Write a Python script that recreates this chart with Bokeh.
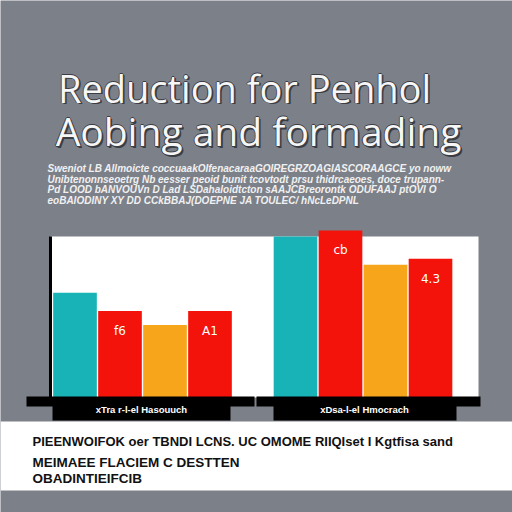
from bokeh.plotting import figure
from bokeh.models import Range1d
from bokeh.core.properties import value
from bokeh.embed import file_html
from bokeh.resources import INLINE

# ---------------- data ----------------
title_lines = ["Reduction for Penhol", "Aobing and formading"]
paragraph_lines = [
    "Sweniot LB Allmoicte coccuaakOIfenacaraaGOIREGRZOAGIASCORAAGCE yo noww",
    "Unibtenonnseoetrg Nb eesser peoid bunit tcovtodt prsu thidrcaeoes, doce trupann-",
    "Pd LOOD bANVOUVn D Lad LSDahaloidtcton sAAJCBreorontk ODUFAAJ ptOVI O",
    "eoBAIODINY XY DD CCkBBAJ(DOEPNE JA TOULEC/ hNcLeDPNL",
]
groups = ["xTra r-l-el Hasouuch", "xDsa-l-el Hmocrach"]
series = ["Teal", "Red", "Orange", "Red B"]
group1_values = [52, 43, 36, 43]
group2_values = [80, 83, 66, 69]
group1_labels = ["", "f6", "", "A1"]
group2_labels = ["", "cb", "", "4.3"]
footer_lines = [
    "PIEENWOIFOK oer TBNDI LCNS. UC OMOME RIIQIset I Kgtfisa sand",
    "MEIMAEE  FLACIEM C DESTTEN",
    "OBADINTIEIFCIB",
]
colors = ["#17b3b6", "#f4130a", "#f7a51b", "#f4130a"]

BG = "#7c8089"
H = 512


def Y(px):
    """page pixel (from top) -> canvas y"""
    return H - px


p = figure(width=512, height=512, output_backend="svg", toolbar_location=None,
           x_range=Range1d(0, 512), y_range=Range1d(0, H),
           x_axis_type=None, y_axis_type=None, min_border=0)
p.grid.visible = False
p.outline_line_color = None
p.background_fill_color = BG
p.border_fill_color = BG

# value / slot scales for the bar chart
p.extra_x_ranges = {"slot": Range1d(-74.5 / 45, (512 - 74.5) / 45)}
p.extra_y_ranges = {"val": Range1d(-(512 - 397) / 2.0125, 397 / 2.0125)}


def box(l, r, t, b, color):
    p.quad(left=[l], right=[r], top=[Y(t)], bottom=[Y(b)], fill_color=color, line_color=None)


# ---------------- title ----------------
title_sizes = ["38px", "39px"]
title_base = [87, 130]
title_x = [244, 258]
outline_offsets = [(1.8, 1.8), (-0.8, 0), (0.8, 0), (0, -0.8), (0, 0.8)]
for t, s, b, x in zip(title_lines, title_sizes, title_base, title_x):
    for dx, dy in outline_offsets:
        p.text(x=[x + dx], y=[Y(b + dy)], text=[t], text_font=value("Open Sans"),
               text_font_size=s, text_color="#3a3d44", text_align="center",
               text_baseline="alphabetic")
    p.text(x=[x], y=[Y(b)], text=[t], text_font=value("Open Sans"),
           text_font_size=s, text_color="#f6f6f6", text_align="center",
           text_baseline="alphabetic")

# ---------------- paragraph ----------------
for i, line in enumerate(paragraph_lines):
    p.text(x=[47], y=[Y(168 + i * 10.5)], text=[line], text_font=value("Liberation Sans"),
           text_font_size="10px", text_font_style="bold italic", text_color="#f0f0f0",
           text_align="left", text_baseline="middle")

# ---------------- plot area ----------------
box(50, 478, 236, 397, "white")

all_values = [group1_values, group2_values]
all_labels = [group1_labels, group2_labels]
for g, (vals, labs) in enumerate(zip(all_values, all_labels)):
    xs = [g * (len(series) + 0.9) + i for i in range(len(series))]
    p.vbar(x=xs, top=vals, bottom=0, width=0.97, fill_color=colors, line_color=None,
           x_range_name="slot", y_range_name="val")
    p.text(x=xs, y=vals, text=labs, x_range_name="slot", y_range_name="val",
           y_offset=20, text_font=value("DejaVu Sans"), text_font_size="12px",
           text_color="white", text_align="center", text_baseline="middle")

# axis line and base
p.segment(x0=[50], y0=[Y(236)], x1=[50], y1=[Y(397)], line_color="black", line_width=3)
box(26, 254, 396, 406, "black")
box(256, 480, 396, 406, "black")
box(52, 230, 400, 420, "black")
box(273, 456, 400, 420, "black")
for x, gname in zip([141, 364], groups):
    p.text(x=[x], y=[Y(409)], text=[gname], text_font=value("Liberation Sans"),
           text_font_size="9.5px", text_font_style="bold", text_color="white",
           text_align="center", text_baseline="middle")

# ---------------- footer ----------------
box(0, 512, 421, 490, "white")
footer_y = [441, 462, 478]
footer_sizes = ["13px", "13.5px", "13.5px"]
for line, y, s in zip(footer_lines, footer_y, footer_sizes):
    p.text(x=[32], y=[Y(y)], text=[line], text_font=value("Liberation Sans"),
           text_font_size=s, text_font_style="bold", text_color="#111111",
           text_align="left", text_baseline="middle")

open("out.html", "w").write(file_html(p, INLINE))
